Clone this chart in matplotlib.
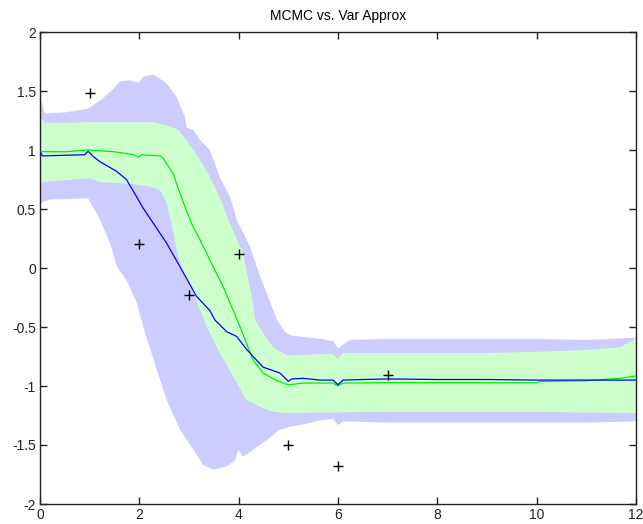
import matplotlib
matplotlib.use("Agg")
import matplotlib.pyplot as plt
import numpy as np

plt.rcParams['font.family'] = ['Liberation Sans', 'DejaVu Sans']
plt.rcParams['axes.unicode_minus'] = False

# Observed data points
obs_x = [1, 2, 3, 4, 5, 6, 7]
obs_y = [1.48, 0.20, -0.23, 0.12, -1.50, -1.68, -0.91]

# MCMC mean (blue line)
mcmc_mean_x = [0, 0.05, 0.5, 0.9, 0.97, 1.07, 1.21, 1.54, 1.74, 1.95, 2.08, 2.28, 2.55, 2.82,
               3.15, 3.42, 3.52, 3.76, 3.96, 4.16, 4.49, 4.83, 5.0, 5.07, 5.3, 5.64, 5.9, 6.0,
               6.1, 6.5, 7, 8, 9, 10, 11, 12]
mcmc_mean_y = [0.986, 0.95, 0.955, 0.96, 0.99, 0.945, 0.90, 0.82, 0.75, 0.60, 0.505, 0.38, 0.21, 0.01,
               -0.24, -0.36, -0.44, -0.54, -0.58, -0.69, -0.84, -0.89, -0.96, -0.94, -0.935, -0.95, -0.95, -0.99,
               -0.95, -0.945, -0.94, -0.945, -0.945, -0.95, -0.95, -0.95]

# MCMC +/- 2 sd band
mcmc_up_x = [0, 0.1, 0.54, 0.97, 1.21, 1.41, 1.61, 1.81, 1.98, 2.08, 2.28, 2.55, 2.75, 2.92, 2.95,
             3.09, 3.22, 3.42, 3.62, 3.83, 3.96, 4.23, 4.43, 4.70, 4.77, 4.93, 5.03, 5.64, 5.9, 6.0,
             6.24, 7, 8, 9, 10, 11, 12]
mcmc_up_y = [1.45, 1.31, 1.32, 1.35, 1.42, 1.49, 1.58, 1.59, 1.57, 1.62, 1.64, 1.565, 1.45, 1.28, 1.19,
             1.17, 1.085, 1.0, 0.77, 0.60, 0.41, 0.18, -0.07, -0.36, -0.44, -0.54, -0.57, -0.60, -0.62, -0.68,
             -0.61, -0.60, -0.60, -0.60, -0.60, -0.61, -0.59]
mcmc_lo_x = [0, 0.2, 0.97, 1.21, 1.41, 1.55, 1.74, 1.95, 2.08, 2.35, 2.55, 2.82, 3.09, 3.29, 3.49,
             3.76, 3.93, 3.99, 4.09, 4.29, 4.56, 4.83, 5.03, 5.37, 5.64, 5.9, 6.0, 6.1, 7, 8, 9, 10, 11, 12]
mcmc_lo_y = [0.55, 0.58, 0.59, 0.41, 0.21, 0.01, -0.10, -0.30, -0.50, -0.86, -1.12, -1.37, -1.54, -1.67, -1.71,
             -1.68, -1.63, -1.54, -1.60, -1.54, -1.46, -1.37, -1.345, -1.32, -1.29, -1.28, -1.33, -1.30,
             -1.31, -1.31, -1.31, -1.31, -1.31, -1.30]

# Variational approximation mean (green line)
va_mean_x = [0, 0.5, 0.97, 1.5, 1.88, 1.98, 2.05, 2.42, 2.48, 2.68, 2.72, 2.89, 3.05, 3.22, 3.49,
             3.69, 3.89, 4.03, 4.16, 4.29, 4.49, 4.77, 5.0, 5.3, 5.9, 6.0, 6.1, 7, 8, 9, 10.0, 10.05,
             11.0, 11.68, 12]
va_mean_y = [0.986, 0.985, 1.0, 0.985, 0.96, 0.94, 0.96, 0.95, 0.93, 0.80, 0.75, 0.55, 0.38, 0.24, 0.01,
             -0.16, -0.36, -0.50, -0.64, -0.78, -0.89, -0.955, -0.99, -0.975, -0.975, -1.0, -0.975, -0.972,
             -0.972, -0.972, -0.972, -0.963, -0.955, -0.935, -0.915]

# Variational approximation +/- 2 sd band
va_up_x = [0, 0.1, 0.97, 2.3, 2.55, 2.79, 3.09, 3.39, 3.62, 3.79, 3.99, 4.09, 4.29, 4.33, 4.49,
           4.69, 4.97, 5.64, 5.9, 6.0, 6.1, 7, 8, 9, 10, 11, 11.68, 12]
va_up_y = [1.28, 1.23, 1.235, 1.235, 1.21, 1.17, 1.0, 0.80, 0.60, 0.41, 0.22, 0.125, -0.30, -0.44, -0.55,
           -0.67, -0.74, -0.73, -0.73, -0.77, -0.72, -0.72, -0.72, -0.72, -0.71, -0.695, -0.67, -0.60]
va_lo_x = [0, 0.1, 0.97, 1.21, 1.88, 2.21, 2.42, 2.55, 2.65, 2.75, 2.85, 3.09, 3.36, 3.62, 3.89,
           4.16, 4.43, 4.70, 4.97, 5.64, 7, 8, 9, 10, 11, 12]
va_lo_y = [0.72, 0.73, 0.76, 0.73, 0.71, 0.69, 0.66, 0.55, 0.38, 0.15, 0.01, -0.215, -0.50, -0.72, -0.92,
           -1.12, -1.175, -1.22, -1.23, -1.225, -1.22, -1.22, -1.22, -1.22, -1.225, -1.23]

x_ticks = [0, 2, 4, 6, 8, 10, 12]
y_ticks = [-2, -1.5, -1, -0.5, 0, 0.5, 1, 1.5, 2]
y_tick_labels = ['-2', '-1.5', '-1', '-0.5', '0', '0.5', '1', '1.5', '2']

fig = plt.figure(figsize=(6.43, 5.24), dpi=100)
ax = fig.add_axes([40/643, 1 - 504/524, 596/643, 472/524])

ax.fill(np.concatenate([mcmc_up_x, mcmc_lo_x[::-1]]),
        np.concatenate([mcmc_up_y, mcmc_lo_y[::-1]]),
        color='#ccccff', lw=0, zorder=1)
ax.fill(np.concatenate([va_up_x, va_lo_x[::-1]]),
        np.concatenate([va_up_y, va_lo_y[::-1]]),
        color='#ccffcc', lw=0, zorder=2)
ax.plot(va_mean_x, va_mean_y, color='#00ee00', lw=0.9, zorder=3)
ax.plot(mcmc_mean_x, mcmc_mean_y, color='#0000ff', lw=0.9, zorder=4)
ax.plot(obs_x, obs_y, '+', color='black', ms=7, mew=1.0, zorder=5)

ax.set_xlim(0, 12)
ax.set_ylim(-2, 2)
ax.set_xticks(x_ticks)
ax.set_xticklabels([str(t) for t in x_ticks])
ax.set_yticks(y_ticks)
ax.set_yticklabels(y_tick_labels)
ax.tick_params(direction='in', length=5, width=1, top=True, right=True,
               labelsize=10, colors='#222222', pad=3)
for s in ax.spines.values():
    s.set_linewidth(1)
    s.set_color('#222222')
ax.set_title('MCMC vs. Var Approx', fontsize=10, pad=9)

fig.savefig('out.png', dpi=100)
